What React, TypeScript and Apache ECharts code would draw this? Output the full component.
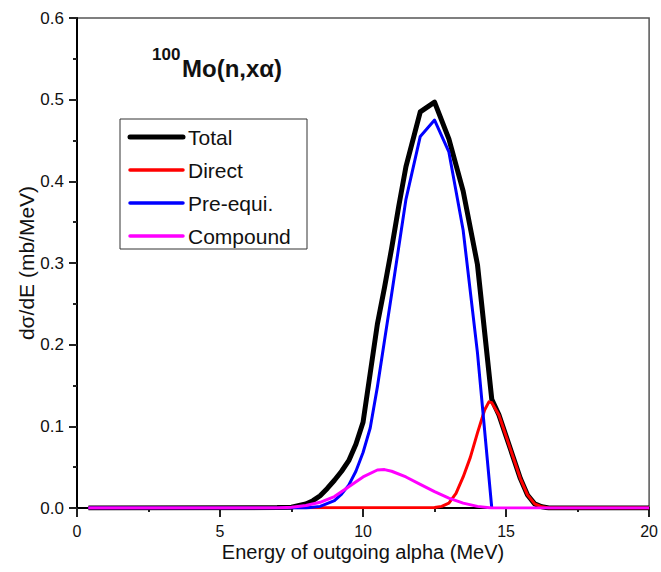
import React, { useEffect, useRef } from "react";
import * as echarts from "echarts";

// Energy grids (MeV) and dσ/dE values (mb/MeV)
const totalX = [0.4, 7.0, 7.5, 8.0, 8.25, 8.5, 8.75, 9.0, 9.25, 9.5, 9.75, 10.0, 10.25, 10.5, 10.75, 11.0, 11.25, 11.5, 12.0, 12.5, 13.0, 13.5, 14.0, 14.5, 14.75, 15.0, 15.25, 15.5, 15.75, 16.0, 16.25, 16.5, 20.0];
const totalY = [0, 0.0005, 0.001, 0.005, 0.009, 0.015, 0.024, 0.034, 0.045, 0.058, 0.078, 0.105, 0.165, 0.225, 0.27, 0.318, 0.37, 0.418, 0.485, 0.497, 0.452, 0.388, 0.298, 0.133, 0.114, 0.088, 0.062, 0.036, 0.016, 0.005, 0.0015, 0, 0];

const directX = [0.4, 12.5, 12.75, 13.0, 13.25, 13.5, 13.75, 14.0, 14.25, 14.4, 14.5, 14.75, 15.0, 15.25, 15.5, 15.75, 16.0, 16.25, 16.5, 20.0];
const directY = [0, 0.0005, 0.002, 0.006, 0.018, 0.038, 0.062, 0.092, 0.12, 0.13, 0.129, 0.114, 0.088, 0.062, 0.036, 0.016, 0.005, 0.0015, 0, 0];

const preeqX = [0.4, 8.0, 8.5, 9.0, 9.25, 9.5, 9.75, 10.0, 10.25, 10.5, 10.75, 11.0, 11.5, 12.0, 12.5, 13.0, 13.5, 14.0, 14.5];
const preeqY = [0, 0, 0.002, 0.009, 0.017, 0.028, 0.045, 0.068, 0.098, 0.148, 0.205, 0.262, 0.378, 0.455, 0.475, 0.436, 0.34, 0.19, 0];

const compX = [0.4, 7.0, 7.5, 8.0, 8.5, 9.0, 9.5, 10.0, 10.5, 10.75, 11.0, 11.5, 12.0, 12.5, 13.0, 13.5, 14.0, 14.5, 20.0];
const compY = [0, 0, 0.001, 0.003, 0.007, 0.014, 0.026, 0.038, 0.0465, 0.047, 0.045, 0.038, 0.029, 0.02, 0.012, 0.006, 0.002, 0, 0];

const seriesNames = ["Total", "Direct", "Pre-equi.", "Compound"];
const seriesColors = ["#000000", "#ff0000", "#0000ff", "#ff00ff"];
const seriesWidths = [5, 3, 3, 3];

const xTicks = { min: 0, max: 20, interval: 5 };
const yTicks = { min: 0, max: 0.6, interval: 0.1 };

const zip = (xs: number[], ys: number[]) => xs.map((x, i) => [x, ys[i]]);

export default function App() {
  const ref = useRef<HTMLDivElement>(null);
  useEffect(() => {
    if (!ref.current) return;
    const chart = echarts.init(ref.current, undefined, { renderer: "svg" });
    const font = "Liberation Sans, Arial, sans-serif";
    const datasets = [
      zip(totalX, totalY),
      zip(directX, directY),
      zip(preeqX, preeqY),
      zip(compX, compY),
    ];

    // legend drawn as graphic elements (box, line samples, labels)
    const legendBox = { x: 120, y: 119, w: 187, h: 130 };
    const rowY = (i: number) => 137 + i * 33;
    const legendEls: any[] = [
      {
        type: "rect",
        shape: { x: legendBox.x, y: legendBox.y, width: legendBox.w, height: legendBox.h },
        style: { fill: "#ffffff", stroke: "#333333", lineWidth: 1 },
        z: 100,
      },
    ];
    seriesNames.forEach((n, i) => {
      legendEls.push({
        type: "line",
        shape: { x1: 130, y1: rowY(i), x2: 183, y2: rowY(i) },
        style: { stroke: seriesColors[i], lineWidth: i === 0 ? 5 : 3.5, lineCap: "round" },
        z: 101,
      });
      legendEls.push({
        type: "text",
        x: 188,
        y: rowY(i),
        style: {
          text: n,
          fontSize: 21,
          fill: "#111111",
          fontFamily: font,
          verticalAlign: "middle",
          align: "left",
        },
        z: 101,
      });
    });

    chart.setOption({
      animation: false,
      backgroundColor: "#ffffff",
      textStyle: { fontFamily: font },
      grid: {
        left: 77,
        top: 18,
        width: 574,
        height: 490,
        show: true,
        borderColor: "#555555",
        borderWidth: 1.5,
        backgroundColor: "transparent",
      },
      xAxis: {
        type: "value",
        min: xTicks.min,
        max: xTicks.max,
        interval: xTicks.interval,
        name: "Energy of outgoing alpha (MeV)",
        nameLocation: "middle",
        nameGap: 34,
        nameMoveOverlap: false,
        nameTextStyle: { fontSize: 20, color: "#111111", fontFamily: font },
        axisLine: { show: true, onZero: false, lineStyle: { color: "#000000", width: 2 } },
        axisTick: { show: true, inside: false, length: 9, lineStyle: { color: "#222222", width: 2 } },
        minorTick: { show: true, splitNumber: 2, length: 4, lineStyle: { color: "#222222", width: 2 } },
        splitLine: { show: false },
        axisLabel: { fontSize: 16, color: "#111111", margin: 15, fontFamily: font },
      },
      yAxis: {
        type: "value",
        min: yTicks.min,
        max: yTicks.max,
        interval: yTicks.interval,
        name: "dσ/dE (mb/MeV)",
        nameLocation: "middle",
        nameGap: 40,
        nameMoveOverlap: false,
        nameTextStyle: { fontSize: 21, color: "#111111", fontFamily: font },
        axisLine: { show: true, onZero: false, lineStyle: { color: "#000000", width: 2 } },
        axisTick: { show: true, inside: false, length: 8, lineStyle: { color: "#222222", width: 2 } },
        minorTick: { show: true, splitNumber: 2, length: 4, lineStyle: { color: "#222222", width: 2 } },
        splitLine: { show: false },
        axisLabel: {
          fontSize: 17,
          color: "#111111",
          margin: 13,
          fontFamily: font,
          formatter: (v: number) => v.toFixed(1),
        },
      },
      series: seriesNames.map((n, i) => ({
        name: n,
        type: "line",
        data: datasets[i],
        showSymbol: false,
        symbol: "none",
        smooth: false,
        z: 2 + i,
        lineStyle: { color: seriesColors[i], width: seriesWidths[i], join: "round" },
        itemStyle: { color: seriesColors[i] },
      })),
      graphic: [
        {
          type: "text",
          left: 152,
          top: 46,
          style: { text: "100", fontSize: 17, fontWeight: "bold", fill: "#111111", fontFamily: font },
        },
        {
          type: "text",
          left: 182,
          top: 56,
          style: { text: "Mo(n,xα)", fontSize: 24, fontWeight: "bold", fill: "#111111", fontFamily: font },
        },
        ...legendEls,
      ],
    });
    return () => chart.dispose();
  }, []);
  return (
    <div
      ref={ref}
      style={{ position: "fixed", left: 0, top: 0, width: 661, height: 572, background: "#fff" }}
    />
  );
}
